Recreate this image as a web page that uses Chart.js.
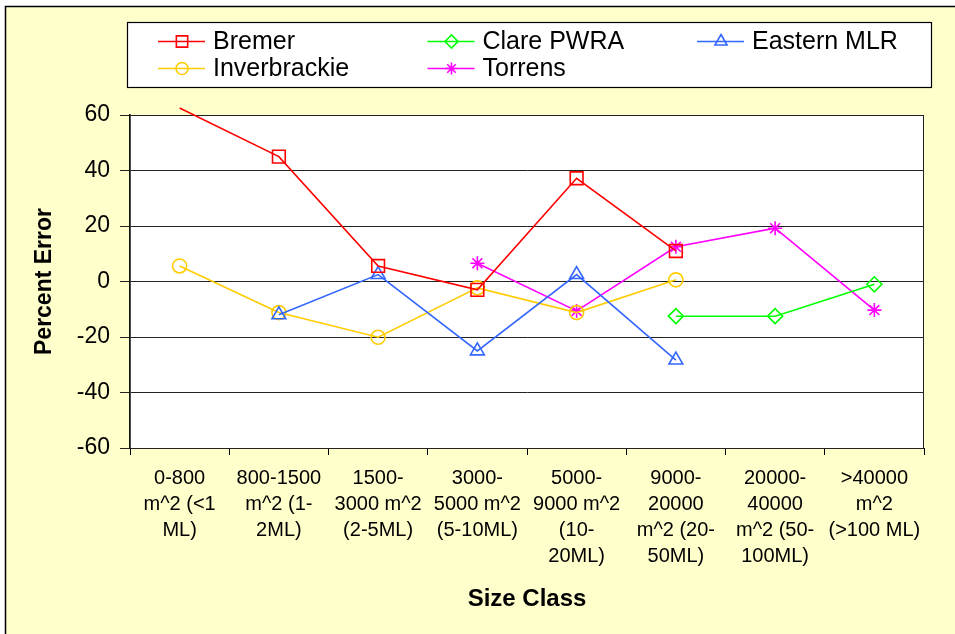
<!DOCTYPE html>
<html>
<head>
<meta charset="utf-8">
<script src="https://cdn.jsdelivr.net/npm/chart.js@4.4.0/dist/chart.umd.min.js"></script>
<style>
  body { margin: 0; background: #fff; }
  canvas { display: block; }
</style>
</head>
<body>
<canvas id="mycanvas" width="955" height="634"></canvas>
<script>
// size classes (tick labels, one array per line break)
var sizeClasses = [
    ["0-800", "m^2 (<1", "ML)"],
    ["800-1500", "m^2 (1-", "2ML)"],
    ["1500-", "3000 m^2", "(2-5ML)"],
    ["3000-", "5000 m^2", "(5-10ML)"],
    ["5000-", "9000 m^2", "(10-", "20ML)"],
    ["9000-", "20000", "m^2 (20-", "50ML)"],
    ["20000-", "40000", "m^2 (50-", "100ML)"],
    [">40000", "m^2", "(>100 ML)"]
];

// percent error per size class
var bremer       = [62.5, 45, 5.6, -3, 37.2, 11, null, null];
var clarePWRA    = [null, null, null, null, null, -12.5, -12.5, -1];
var easternMLR   = [null, -12, 2.5, -25, 2.5, -28.3, null, null];
var inverbrackie = [5.6, -11.2, -20.1, -2.3, -11.2, 0.6, null, null];
var torrens      = [null, null, null, 6.6, -10.6, 12.5, 19.2, -10.3];

var yMin = -60, yMax = 60, yStep = 20;

function serie(label, data, color, style, radius) {
    return {
        label: label,
        data: data,
        borderColor: color,
        backgroundColor: color,
        borderWidth: 1.6,
        pointStyle: style,
        pointRadius: function(c) {
            var v = c.raw;
            return (v === null || v > yMax) ? 0 : radius;
        },
        pointBorderColor: color,
        pointBackgroundColor: 'rgba(0,0,0,0)',
        pointBorderWidth: 1.6,
        pointHoverRadius: radius,
        tension: 0,
        clip: false,
        legendRadius: radius
    };
}

// yellow page, white plot area, plot border
var background = {
    id: 'background',
    beforeDraw: function(chart) {
        var ctx = chart.ctx, a = chart.chartArea;
        ctx.save();
        ctx.fillStyle = '#ffffff';
        ctx.fillRect(0, 0, chart.width, chart.height);
        ctx.fillStyle = '#ffffcc';
        ctx.fillRect(5, 7, chart.width - 5, chart.height - 7);
        ctx.strokeStyle = '#000';
        ctx.lineWidth = 1.5;
        ctx.beginPath();
        ctx.moveTo(5.5, chart.height);
        ctx.lineTo(5.5, 6.5);
        ctx.lineTo(chart.width, 6.5);
        ctx.stroke();
        ctx.fillStyle = '#ffffff';
        ctx.fillRect(a.left, a.top, a.right - a.left, a.bottom - a.top);
        ctx.restore();
    },
    beforeDatasetsDraw: function(chart) {
        var ctx = chart.ctx, a = chart.chartArea;
        ctx.save();
        ctx.strokeStyle = '#222';
        ctx.lineWidth = 1;
        ctx.strokeRect(a.left, a.top + 0.5, a.right - a.left - 0.5, a.bottom - a.top);
        ctx.restore();
    }
};

// boxed legend, 3 columns
var legendBox = {
    id: 'legendBox',
    afterDraw: function(chart) {
        var ctx = chart.ctx;
        ctx.save();
        ctx.fillStyle = '#ffffff';
        ctx.fillRect(127.5, 22.5, 804, 65);
        ctx.strokeStyle = '#000';
        ctx.lineWidth = 1.2;
        ctx.strokeRect(127.5, 22.5, 804, 65);
        ctx.font = '25px "Liberation Sans", Arial, sans-serif';
        ctx.textBaseline = 'middle';
        ctx.textAlign = 'left';
        chart.data.datasets.forEach(function(ds, i) {
            var col = i % 3, row = Math.floor(i / 3);
            var x0 = 158 + col * 269.5;
            var y = 41.5 + row * 27;
            ctx.strokeStyle = ds.borderColor;
            ctx.lineWidth = 1.6;
            ctx.beginPath();
            ctx.moveTo(x0, y);
            ctx.lineTo(x0 + 47, y);
            ctx.stroke();
            ctx.fillStyle = 'rgba(0,0,0,0)';
            Chart.helpers.drawPoint(ctx, {
                pointStyle: ds.pointStyle,
                radius: ds.legendRadius - 1,
                borderWidth: 1.6,
                rotation: 0
            }, x0 + 24, y);
            ctx.fillStyle = '#000';
            ctx.fillText(ds.label, x0 + 55, y + 1);
        });
        ctx.restore();
    }
};

Chart.defaults.font.family = '"Liberation Sans", Arial, sans-serif';
Chart.defaults.color = '#000';

var chartdata = {
    labels: sizeClasses,
    datasets: [
        serie('Bremer', bremer, '#ff0000', 'rect', 9),
        serie('Clare PWRA', clarePWRA, '#00ff00', 'rectRot', 7.5),
        serie('Eastern MLR', easternMLR, '#3366ff', 'triangle', 8),
        serie('Inverbrackie', inverbrackie, '#ffcc00', 'circle', 7),
        serie('Torrens', torrens, '#ff00ff', 'star', 7)
    ]
};

var ctx = document.getElementById('mycanvas');

var lineGraph = new Chart(ctx, {
    type: 'line',
    data: chartdata,
    plugins: [background, legendBox],
    options: {
        responsive: false,
        animation: false,
        devicePixelRatio: 1,
        layout: { padding: { top: 115, right: 31, left: 0, bottom: 0 } },
        plugins: {
            legend: { display: false },
            tooltip: { enabled: false }
        },
        scales: {
            x: {
                type: 'category',
                offset: true,
                afterFit: function(scale) { scale.height = 186; },
                grid: {
                    offset: true,
                    drawOnChartArea: false,
                    color: '#000',
                    tickLength: 7
                },
                border: { color: '#000', width: 1 },
                ticks: {
                    autoSkip: false,
                    maxRotation: 0,
                    minRotation: 0,
                    padding: 10,
                    font: { size: 20, lineHeight: 1.31 }
                },
                title: {
                    display: true,
                    text: 'Size Class',
                    font: { size: 24, weight: 'bold' },
                    padding: { top: 0, bottom: 20 }
                }
            },
            y: {
                min: yMin,
                max: yMax,
                afterFit: function(scale) { scale.width = 130; },
                grid: {
                    color: '#222',
                    tickLength: 10
                },
                border: { color: '#000', width: 1.5 },
                ticks: {
                    stepSize: yStep,
                    padding: 10,
                    font: { size: 23 }
                },
                title: {
                    display: true,
                    text: 'Percent Error',
                    font: { size: 23, weight: 'bold' },
                    padding: { top: 31, bottom: 0 }
                }
            }
        }
    }
});
</script>
</body>
</html>
